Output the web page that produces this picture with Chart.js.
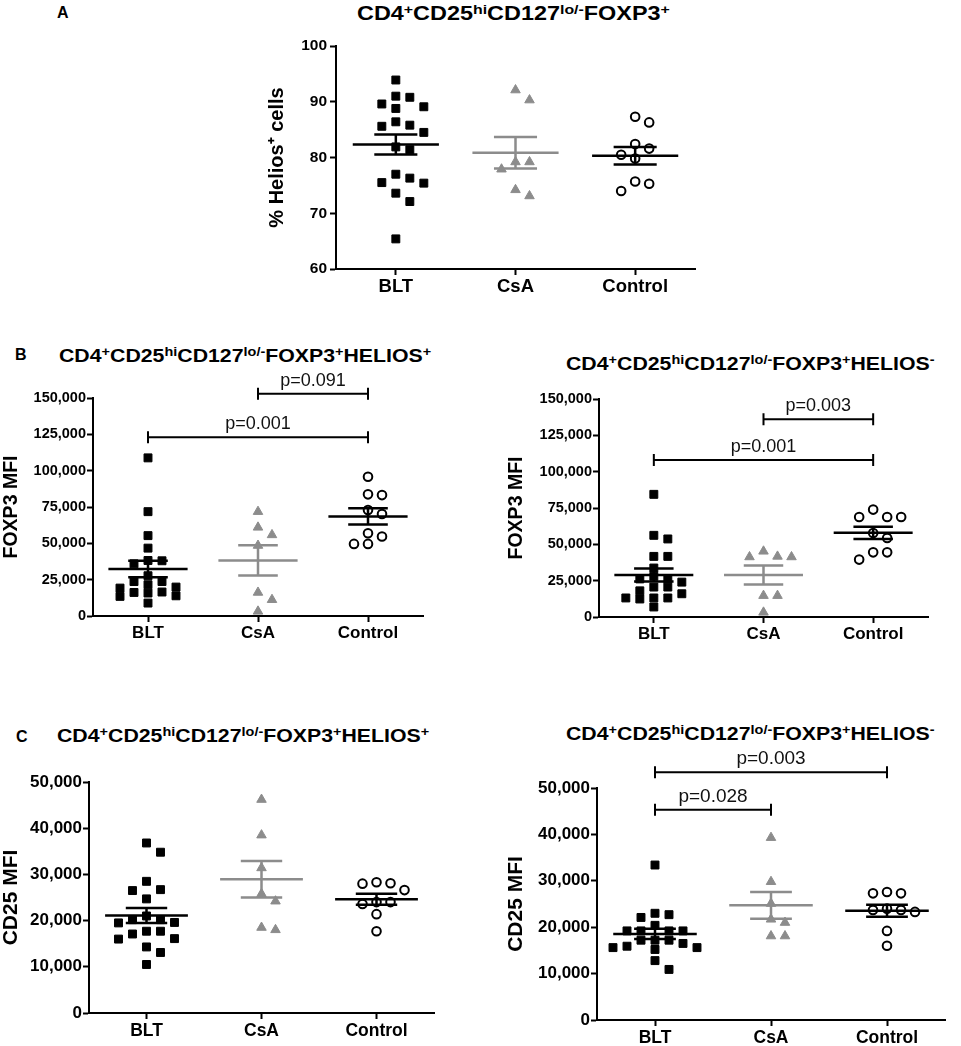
<!DOCTYPE html>
<html>
<head>
<meta charset="utf-8">
<script src="https://cdn.jsdelivr.net/npm/chart.js@4.4.1/dist/chart.umd.min.js"></script>
<style>
  body { margin: 0; width: 961px; height: 1046px; overflow: hidden; background: #fff; position: relative;
         font-family: 'Liberation Sans', Arial, Helvetica, sans-serif; color: #000; }
  canvas { position: absolute; }
  .ttl, .lbl { position: absolute; font-weight: bold; white-space: nowrap; line-height: 1; transform-origin: 0 0; }
  .ttl { font-size: 19px; transform: scaleX(1.12); }
  .ttl.big { font-size: 20px; transform: scaleX(1.17); }
  .lbl { font-size: 16px; }
  sup { font-size: 0.68em; vertical-align: baseline; position: relative; top: -0.45em; line-height: 0; }
</style>
</head>
<body>

<div class="lbl" style="left:57px;top:5px">A</div>
<div class="ttl big" style="left:357px;top:3px">CD4<sup>+</sup>CD25<sup>hi</sup>CD127<sup>lo/-</sup>FOXP3<sup>+</sup></div>

<div class="lbl" style="left:15px;top:347px">B</div>
<div class="ttl" style="left:59px;top:346px">CD4<sup>+</sup>CD25<sup>hi</sup>CD127<sup>lo/-</sup>FOXP3<sup>+</sup>HELIOS<sup>+</sup></div>
<div class="ttl" style="left:566px;top:354px">CD4<sup>+</sup>CD25<sup>hi</sup>CD127<sup>lo/-</sup>FOXP3<sup>+</sup>HELIOS<sup>-</sup></div>

<div class="lbl" style="left:16px;top:729px">C</div>
<div class="ttl" style="left:57px;top:726px">CD4<sup>+</sup>CD25<sup>hi</sup>CD127<sup>lo/-</sup>FOXP3<sup>+</sup>HELIOS<sup>+</sup></div>
<div class="ttl" style="left:566px;top:724px">CD4<sup>+</sup>CD25<sup>hi</sup>CD127<sup>lo/-</sup>FOXP3<sup>+</sup>HELIOS<sup>-</sup></div>

<canvas id="cA"  width="455" height="289" style="left:250px;top:20px"></canvas>
<canvas id="cB1" width="433" height="287" style="left:0px;top:365px"></canvas>
<canvas id="cB2" width="440" height="273" style="left:500px;top:380px"></canvas>
<canvas id="cC1" width="444" height="284" style="left:0px;top:762px"></canvas>
<canvas id="cC2" width="453" height="301" style="left:500px;top:745px"></canvas>

<script>
const groups = ['BLT', 'CsA', 'Control'];

// A - % Helios+ within CD4+CD25hiCD127lo/-FOXP3+
const heliosBLT = [93.9, 90.8, 91.0, 89.1, 88.8, 89.6, 85.8, 85.6, 86.4, 84.5, 81.9, 81.4, 76.3, 75.5, 75.4, 77.0, 73.6, 72.1, 65.4];
const heliosCsA = [90.3, 92.1, 79.2, 79.2, 77.9, 73.1, 74.2];
const heliosCtrl = [87.3, 86.3, 82.4, 81.6, 80.5, 79.8, 75.7, 75.3, 74.0];
const heliosTicks = [60, 70, 80, 90, 100];

// B - FOXP3 MFI, Helios+ and Helios-
const foxpPosBLT = [108800, 71800, 55300, 46700, 38200, 38000, 35900, 27700, 23700, 23700, 21500, 19900, 19200, 16500, 16200, 15800, 13900, 13500, 8900];
const foxpPosCsA = [71800, 61000, 55800, 48500, 16200, 11200, 3200];
const foxpPosCtrl = [95800, 83200, 83700, 72900, 70200, 56900, 54700, 49600, 49600];
const foxpNegBLT = [84400, 56200, 53700, 41700, 41700, 33700, 28000, 26200, 26200, 24000, 20600, 20600, 18000, 16000, 13100, 13100, 13100, 12400, 6900];
const foxpNegCsA = [45200, 41700, 41300, 41300, 14700, 14700, 3200];
const foxpNegCtrl = [73900, 68800, 68800, 68800, 57800, 54400, 44500, 44500, 39500];
const foxpTicks = [0, 25000, 50000, 75000, 100000, 125000, 150000];

// C - CD25 MFI, Helios+ and Helios-
const cd25PosBLT = [36800, 34800, 28500, 26700, 26500, 24700, 21000, 20200, 20200, 19600, 19500, 17700, 17700, 17100, 16000, 16100, 14300, 13100, 10500];
const cd25PosCsA = [46200, 38500, 31400, 25800, 24200, 18500, 18000];
const cd25PosCtrl = [28300, 28100, 28000, 26600, 24000, 24000, 23600, 21400, 17700];
const cd25NegBLT = [33400, 23000, 22700, 22100, 20400, 19200, 19200, 19200, 19200, 17200, 17200, 17200, 16500, 15900, 15600, 15600, 15200, 12800, 10900];
const cd25NegCsA = [39300, 29800, 25100, 21700, 21000, 18100, 18100];
const cd25NegCtrl = [27600, 27300, 27300, 24000, 23700, 23700, 23300, 19200, 16000];
const cd25Ticks = [0, 10000, 20000, 30000, 40000, 50000];

// significance brackets (group index from/to, level in axis units)
const foxpPosSig = [{ from: 1, to: 2, level: 153000, text: 'p=0.091' }, { from: 0, to: 2, level: 123000, text: 'p=0.001' }];
const foxpNegSig = [{ from: 1, to: 2, level: 136000, text: 'p=0.003' }, { from: 0, to: 2, level: 108000, text: 'p=0.001' }];
const cd25NegSig = [{ from: 0, to: 2, level: 53400, text: 'p=0.003' }, { from: 0, to: 1, level: 45300, text: 'p=0.028' }];

const FONT = "'Liberation Sans', Arial, Helvetica, sans-serif";
const GREY = '#8c8c8c';
const MEAN_W = 0.36, CAP_W = 0.18;
const STEP = 14, SLOTS = [0, 1, -1, 2, -2, 3, -3, 4, -4];

Chart.defaults.font.family = FONT;
Chart.defaults.color = '#000';

const looks = [
  { pointStyle: 'rect', bg: '#000', border: '#000', bw: 1, line: '#000', r: 5.6 },
  { pointStyle: 'triangle', bg: GREY, border: GREY, bw: 1, line: GREY, r: 5.5 },
  { pointStyle: 'circle', bg: '#fff', border: '#000', bw: 2, line: '#000', r: 4.3 }
];

function meanSem(v) {
  const n = v.length;
  const m = v.reduce((a, b) => a + b, 0) / n;
  const sd = Math.sqrt(v.reduce((a, b) => a + (b - m) * (b - m), 0) / (n - 1));
  return [m, sd / Math.sqrt(n)];
}

function summary(g, v) {
  const [m, se] = meanSem(v);
  return [
    { x: g - MEAN_W, y: m }, { x: g + MEAN_W, y: m }, { x: g, y: null },
    { x: g - CAP_W, y: m + se }, { x: g + CAP_W, y: m + se }, { x: g, y: null },
    { x: g - CAP_W, y: m - se }, { x: g + CAP_W, y: m - se }, { x: g, y: null },
    { x: g, y: m - se }, { x: g, y: m + se }
  ];
}

function bracketPlugin(list, size) {
  return {
    id: 'brackets',
    afterDatasetsDraw(chart) {
      const { ctx, scales: { x, y } } = chart;
      ctx.save();
      ctx.strokeStyle = '#000';
      ctx.fillStyle = '#111';
      ctx.lineWidth = 2;
      ctx.font = size + 'px ' + FONT;
      ctx.textAlign = 'center';
      ctx.textBaseline = 'middle';
      list.forEach(b => {
        const x1 = x.getPixelForValue(b.from), x2 = x.getPixelForValue(b.to);
        const py = y.getPixelForValue(b.level);
        ctx.beginPath();
        ctx.moveTo(x1, py); ctx.lineTo(x2, py);
        ctx.moveTo(x1, py - 6); ctx.lineTo(x1, py + 6);
        ctx.moveTo(x2, py - 6); ctx.lineTo(x2, py + 6);
        ctx.stroke();
        ctx.fillText(b.text, (x1 + x2) / 2, py - 13);
      });
      ctx.restore();
    }
  };
}

// spread points of a column sideways so close values don't hide each other
function swarm(chart, gap) {
  const xs = chart.scales.x, ys = chart.scales.y;
  const unit = xs.getPixelForValue(1) - xs.getPixelForValue(0);
  chart.data.datasets.forEach(ds => {
    if (ds.type !== 'scatter') return;
    const placed = [];
    const order = ds.data.map((p, i) => i).sort((a, b) => ds.data[b].y - ds.data[a].y);
    order.forEach(i => {
      const p = ds.data[i];
      const py = ys.getPixelForValue(p.y);
      const k = SLOTS.find(s => !placed.some(q => q.k === s && Math.abs(q.py - py) < gap));
      placed.push({ k, py });
      p.x = p.x + k * STEP / unit;
    });
  });
  chart.update('none');
}

function makeChart(id, cfg) {
  const datasets = [];
  cfg.series.forEach((v, g) => {
    const lk = looks[g];
    datasets.push({
      type: 'line', data: summary(g, v), borderColor: lk.line, borderWidth: 2.5,
      pointRadius: 0, spanGaps: false, fill: false, order: 0
    });
    datasets.push({
      type: 'scatter', data: v.map(val => ({ x: g, y: val })),
      pointStyle: lk.pointStyle, pointRadius: lk.r, backgroundColor: lk.bg,
      borderColor: lk.border, borderWidth: lk.bw, order: 1
    });
  });

  const axisLine = { display: true, color: '#000', width: 2 };
  const tickGrid = { display: true, drawOnChartArea: false, drawTicks: true, tickLength: 6, tickWidth: 2, color: '#000' };

  const chart = new Chart(document.getElementById(id), {
    type: 'scatter',
    data: { datasets },
    plugins: [bracketPlugin(cfg.sig || [], cfg.fs.p)],
    options: {
      responsive: false,
      animation: false,
      events: [],
      layout: { padding: cfg.pad },
      plugins: { legend: { display: false }, tooltip: { enabled: false } },
      scales: {
        x: {
          type: 'linear', min: -0.5, max: 2.5,
          afterBuildTicks: s => { s.ticks = groups.map((g, i) => ({ value: i })); },
          afterFit: s => { s.height = cfg.xHeight; },
          ticks: { callback: v => groups[v], font: { size: cfg.fs.x, weight: 'bold' }, padding: cfg.xPad, maxRotation: 0 },
          grid: tickGrid, border: axisLine
        },
        y: {
          min: cfg.ticks[0], max: cfg.ticks[cfg.ticks.length - 1],
          afterBuildTicks: s => { s.ticks = cfg.ticks.map(v => ({ value: v })); },
          afterFit: s => { s.width = cfg.yWidth; },
          ticks: { callback: v => v.toLocaleString('en-US'), font: { size: cfg.fs.tick, weight: 'bold' }, padding: cfg.tickPad },
          grid: tickGrid, border: axisLine,
          title: { display: true, text: cfg.yTitle, font: { size: cfg.fs.title, weight: 'bold', lineHeight: 1 }, padding: 0 }
        }
      }
    }
  });
  swarm(chart, cfg.gap);
  return chart;
}

makeChart('cA', {
  series: [heliosBLT, heliosCsA, heliosCtrl], ticks: heliosTicks, yTitle: '% Helios\u207A cells', gap: 12,
  pad: { left: 17, top: 26, right: 10, bottom: 0 }, yWidth: 69, xHeight: 40, tickPad: 3, xPad: 1,
  fs: { tick: 15.5, x: 18.5, title: 20, p: 17 }
});
makeChart('cB1', {
  series: [foxpPosBLT, foxpPosCsA, foxpPosCtrl], ticks: foxpTicks, yTitle: 'FOXP3 MFI', sig: foxpPosSig, gap: 8,
  pad: { left: 2, top: 33, right: 10, bottom: 0 }, yWidth: 91, xHeight: 36, tickPad: 1, xPad: 1,
  fs: { tick: 14.5, x: 17, title: 19.5, p: 18 }
});
makeChart('cB2', {
  series: [foxpNegBLT, foxpNegCsA, foxpNegCtrl], ticks: foxpTicks, yTitle: 'FOXP3 MFI', sig: foxpNegSig, gap: 8,
  pad: { left: 7, top: 19, right: 12, bottom: 0 }, yWidth: 92, xHeight: 36, tickPad: 1, xPad: 1,
  fs: { tick: 14.5, x: 17, title: 19.5, p: 18 }
});
makeChart('cC1', {
  series: [cd25PosBLT, cd25PosCsA, cd25PosCtrl], ticks: cd25Ticks, yTitle: 'CD25 MFI', gap: 9.5,
  pad: { left: 1, top: 20, right: 10, bottom: 0 }, yWidth: 88, xHeight: 33, tickPad: 1, xPad: 2,
  fs: { tick: 17, x: 17.5, title: 21, p: 19 }
});
makeChart('cC2', {
  series: [cd25NegBLT, cd25NegCsA, cd25NegCtrl], ticks: cd25Ticks, yTitle: 'CD25 MFI', sig: cd25NegSig, gap: 9,
  pad: { left: 6, top: 43, right: 8, bottom: 0 }, yWidth: 91, xHeight: 26, tickPad: 1, xPad: 2,
  fs: { tick: 17, x: 17.5, title: 21, p: 19 }
});
</script>
</body>
</html>
